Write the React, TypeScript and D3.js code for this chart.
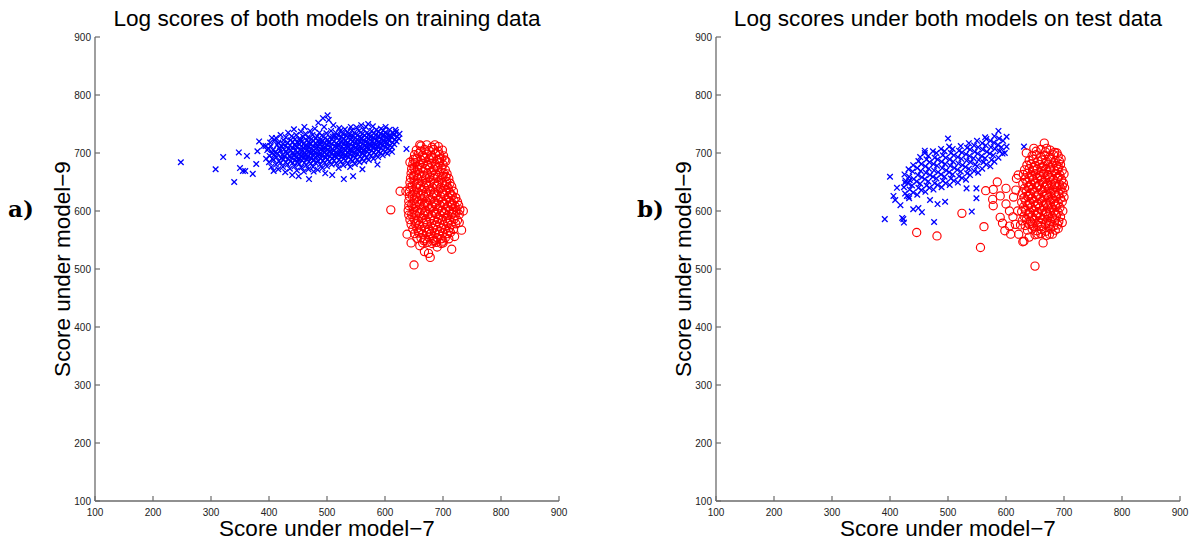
import React from "react";
import * as d3 from "d3";

const xTickValues = [100, 200, 300, 400, 500, 600, 700, 800, 900];
const yTickValues = [100, 200, 300, 400, 500, 600, 700, 800, 900];
const panelTitles = [
  "Log scores of both models on training data",
  "Log scores under both models on test data",
];
const panelTags = ["a)", "b)"];
const xAxisLabel = "Score under model\u22127";
const yAxisLabel = "Score under model\u22129";

// Training data, model-7 class (blue crosses): flat [x, y, x, y, ...]
const trainBlue = [
  248,684, 308,672, 321,693, 340,650, 348,701, 350,674, 355,669, 359,669, 362,695, 378,681, 380,703, 383,720, 405,726, 637,707, 372,664, 390,712,
  395,690, 397,705, 394,712,
  400,684, 401,695, 399,708, 402,718,
  404,676, 405,700, 403,712, 406,690,
  408,688, 409,697, 407,705, 410,722, 408,669,
  412,680, 413,693, 411,702, 414,714, 412,726,
  416,672, 417,686, 415,699, 418,708, 416,718,
  420,683, 421,691, 419,704, 422,711, 420,731,
  424,676, 425,689, 423,697, 426,706, 424,716, 425,722,
  428,667, 429,684, 427,694, 430,702, 428,712, 429,727,
  432,680, 433,690, 431,699, 434,708, 432,718, 433,735,
  436,673, 437,686, 435,695, 438,704, 436,713, 437,722,
  440,662, 441,683, 439,692, 442,700, 440,709, 441,719, 439,729,
  444,677, 445,688, 443,696, 446,705, 444,714, 445,724, 443,741,
  448,670, 449,684, 447,693, 450,701, 448,710, 449,718, 447,731,
  452,681, 453,690, 451,698, 454,706, 452,715, 453,725, 451,660,
  456,675, 457,687, 455,695, 458,703, 456,712, 457,720, 455,737,
  460,668, 461,683, 459,692, 462,700, 460,708, 461,717, 459,728, 461,745,
  464,679, 465,689, 463,697, 466,705, 464,713, 465,722, 463,733,
  468,672, 469,685, 467,694, 470,702, 468,710, 469,719, 467,727, 469,655,
  472,682, 473,691, 471,699, 474,707, 472,716, 473,724, 471,738,
  476,676, 477,688, 475,696, 478,704, 476,712, 477,721, 475,731, 477,668,
  480,683, 481,693, 479,701, 482,709, 480,717, 481,726, 479,742,
  484,671, 485,686, 483,695, 486,703, 484,711, 485,720, 483,729, 485,752,
  488,680, 489,690, 487,698, 490,706, 488,714, 489,723, 487,735,
  492,674, 493,687, 491,696, 494,704, 492,712, 493,721, 491,730, 493,760,
  496,683, 497,693, 495,701, 498,709, 496,717, 497,726, 495,745, 497,665,
  500,677, 501,689, 499,698, 502,706, 500,714, 501,723, 499,734, 501,765,
  504,685, 505,694, 503,702, 506,710, 504,718, 505,727, 503,757,
  508,680, 509,691, 507,699, 510,707, 508,716, 509,724, 507,738, 509,662,
  512,687, 513,696, 511,704, 514,712, 512,720, 513,729, 511,748,
  516,682, 517,692, 515,701, 518,709, 516,717, 517,726, 515,735,
  520,674, 521,688, 519,697, 522,705, 520,713, 521,722, 519,731, 521,743,
  524,685, 525,694, 523,703, 526,711, 524,719, 525,728, 523,738,
  528,679, 529,690, 527,699, 530,707, 528,716, 529,724, 527,733, 529,655,
  532,687, 533,696, 531,705, 534,713, 532,721, 533,730, 531,741,
  536,682, 537,693, 535,701, 538,710, 536,718, 537,727, 535,736,
  540,676, 541,689, 539,698, 542,706, 540,715, 541,723, 539,732, 541,745,
  544,686, 545,695, 543,704, 546,712, 544,720, 545,729, 543,739, 545,660,
  548,681, 549,692, 547,701, 550,709, 548,717, 549,726, 547,735,
  552,688, 553,698, 551,706, 554,714, 552,723, 553,731, 551,744,
  556,684, 557,694, 555,703, 558,711, 556,719, 557,728, 555,738,
  560,690, 561,700, 559,708, 562,716, 560,725, 561,733, 559,748, 561,672,
  564,686, 565,697, 563,705, 566,713, 564,722, 565,730, 563,740,
  568,692, 569,702, 567,710, 570,718, 568,727, 569,735, 567,745,
  572,688, 573,699, 571,707, 574,715, 572,724, 573,732, 571,750,
  576,695, 577,704, 575,712, 578,720, 576,729, 577,738,
  580,690, 581,701, 579,709, 582,717, 580,726, 581,734, 579,746,
  584,697, 585,706, 583,714, 586,722, 584,731, 585,740,
  588,693, 589,703, 587,711, 590,719, 588,728, 589,737, 587,680,
  592,700, 593,708, 591,716, 594,724, 592,733, 593,742,
  596,696, 597,705, 595,713, 598,721, 596,730, 597,739,
  600,702, 601,710, 599,718, 602,727, 600,735, 601,745,
  604,699, 605,708, 603,716, 606,724, 604,733,
  608,705, 609,713, 607,721, 610,730, 608,740,
  612,710, 613,718, 611,727, 614,735, 612,702,
  616,715, 617,723, 615,731, 618,740,
  620,720, 621,728, 619,736,
  624,725, 625,733,
  442,696, 446,712, 450,689, 454,721, 458,698, 462,712, 466,692, 470,716, 474,701, 478,688, 482,713, 486,697, 490,719,
  494,708, 498,692, 502,718, 506,703, 510,728, 514,694, 518,714, 522,700, 526,721, 530,695, 534,717, 538,705, 542,727,
  546,699, 550,720, 554,707, 558,725, 562,704, 566,719, 570,710, 574,728, 578,714, 582,724, 586,712, 590,729, 594,717,
  598,731, 602,720, 606,729,
];

// Training data, model-9 class (red circles)
const trainRed = [
  610,602, 626,634, 636,634, 643,684, 705,686, 660,714, 686,714, 650,507, 675,527, 715,534, 732,567, 660,540, 690,538, 700,545, 668,530, 683,548, 720,556, 728,580, 735,600, 638,560, 645,545, 678,520,
  662,712, 672,714, 681,710, 692,711,
  654,705, 661,703, 668,706, 676,704, 684,706, 692,703, 699,705,
  651,697, 658,699, 665,696, 672,698, 680,696, 687,699, 694,697, 701,695,
  649,689, 655,690, 662,688, 669,691, 676,689, 683,690, 690,688, 697,690, 703,688,
  648,681, 652,683, 659,680, 666,682, 673,680, 680,682, 687,681, 694,683, 700,680,
  646,673, 650,674, 656,672, 663,675, 670,673, 677,674, 684,672, 691,675, 698,673, 704,671,
  645,665, 652,666, 659,664, 666,667, 673,665, 680,666, 687,664, 694,666, 701,665, 707,664,
  644,657, 649,658, 656,656, 663,659, 670,657, 677,658, 684,656, 691,658, 698,657, 705,659, 710,656,
  643,649, 650,650, 657,648, 664,651, 671,649, 678,650, 685,648, 692,650, 699,649, 706,651, 712,648,
  643,641, 647,642, 654,640, 661,643, 668,641, 675,642, 682,640, 689,642, 696,641, 703,643, 709,640, 715,642,
  642,633, 650,634, 657,632, 664,635, 671,633, 678,634, 685,632, 692,634, 699,633, 706,635, 712,632, 718,634,
  642,625, 647,626, 654,624, 661,627, 668,625, 675,626, 682,624, 689,626, 696,625, 703,627, 709,624, 716,626, 722,623,
  641,617, 650,618, 657,616, 664,619, 671,617, 678,618, 685,616, 692,618, 699,617, 706,619, 712,616, 719,618, 725,616,
  641,609, 646,610, 653,608, 660,611, 667,609, 674,610, 681,608, 688,610, 695,609, 702,611, 708,608, 715,610, 721,608, 727,610,
  640,601, 649,602, 656,600, 663,603, 670,601, 677,602, 684,600, 691,602, 698,601, 705,603, 711,600, 718,602, 724,600, 729,602,
  641,593, 646,594, 653,592, 660,595, 667,593, 674,594, 681,592, 688,594, 695,593, 702,595, 708,592, 715,594, 721,592, 728,594,
  643,585, 650,586, 657,584, 664,587, 671,585, 678,586, 685,584, 692,586, 699,585, 706,587, 712,584, 719,586, 725,584,
  645,577, 652,578, 659,576, 666,579, 673,577, 680,578, 687,576, 694,578, 701,577, 708,579, 714,576, 722,578,
  648,569, 655,570, 662,568, 669,571, 676,569, 683,570, 690,568, 697,570, 704,569, 711,571, 718,568,
  651,561, 658,562, 665,560, 672,563, 679,561, 686,562, 693,560, 700,562, 707,561, 713,563,
  655,553, 662,554, 669,552, 676,555, 683,553, 690,554, 697,552, 704,554, 710,552,
  665,545, 673,546, 681,544, 689,546, 697,544,
  652,690, 666,693, 680,693, 694,690, 656,676, 674,678, 688,677, 650,661, 668,661, 684,661, 700,660, 654,645, 672,645,
  690,645, 706,646, 650,629, 666,629, 684,629, 700,630, 714,628, 650,613, 668,613, 686,613, 702,613, 716,613, 650,597,
  668,597, 686,597, 702,597, 718,597, 654,581, 672,581, 690,581, 708,581, 658,565, 676,565, 694,565, 710,565, 667,549,
  685,549, 700,548,
];

// Test data, model-7 class (blue crosses)
const testBlue = [
  391,586, 400,659, 423,586, 421,588, 424,580, 476,581, 541,599, 587,738, 631,711, 500,725, 601,728, 601,711, 598,700, 406,626, 409,619, 429,626, 433,622, 440,603, 449,605, 469,619, 495,616, 426,649, 434,653, 564,727, 549,639, 549,622, 532,639, 460,704, 412,640, 418,610, 455,598, 482,612,
  426,630, 424,641, 427,652, 425,663,
  432,625, 434,637, 431,648, 433,659, 432,672,
  440,632, 438,644, 441,655, 439,668, 440,679,
  447,628, 449,640, 446,651, 448,662, 447,674, 449,686,
  454,636, 452,647, 455,658, 453,669, 454,681, 452,693,
  461,633, 463,644, 460,655, 462,666, 461,677, 463,689, 460,700,
  468,640, 466,651, 469,662, 467,673, 468,684, 466,695,
  475,637, 477,648, 474,659, 476,670, 475,681, 477,692, 474,703,
  482,645, 480,656, 483,667, 481,678, 482,689, 480,700,
  489,641, 491,652, 488,663, 490,674, 489,685, 491,696, 488,707,
  496,648, 494,659, 497,670, 495,681, 496,692, 494,703,
  503,645, 505,656, 502,667, 504,678, 503,689, 505,700, 502,711,
  510,652, 508,663, 511,674, 509,685, 510,696, 508,707,
  517,649, 519,660, 516,671, 518,682, 517,693, 519,704,
  524,657, 522,668, 525,679, 523,690, 524,701, 522,712,
  531,654, 533,665, 530,676, 532,687, 531,698, 533,709,
  538,662, 536,673, 539,684, 537,695, 538,706, 536,717,
  545,669, 547,680, 544,691, 546,702, 545,713,
  552,666, 550,677, 553,688, 551,699, 552,710, 550,721,
  559,673, 561,684, 558,695, 560,706, 559,717,
  566,680, 564,691, 567,702, 565,713, 566,724,
  573,677, 575,688, 572,699, 574,710, 573,721,
  580,685, 578,696, 581,707, 579,718, 580,729,
  587,692, 589,703, 586,714, 588,725,
  594,699, 592,710, 595,721,
];

// Test data, model-9 class (red circles)
const testRed = [
  446,563, 481,557, 524,596, 562,573, 556,537, 565,635, 578,637, 577,620, 578,609, 590,626, 600,639, 613,624, 617,636, 618,656, 621,662, 606,600, 590,589, 594,579, 606,574, 616,577, 625,576, 631,548, 650,505, 629,547, 664,545, 666,717, 670,708, 585,650, 600,612, 612,590, 620,600, 608,560, 622,560, 598,566, 640,555, 655,560, 675,560, 690,570, 697,580, 635,700, 648,708, 688,700, 695,690,
  652,703, 660,706, 668,702, 676,705, 684,701,
  645,695, 652,697, 660,694, 667,696, 675,693, 682,697, 690,695,
  640,687, 647,689, 655,686, 662,688, 670,685, 677,689, 685,687, 692,686,
  636,679, 643,681, 650,678, 658,680, 665,677, 672,681, 680,679, 687,678, 694,680,
  632,671, 640,673, 647,670, 654,672, 661,669, 669,673, 676,671, 683,670, 690,672, 697,670,
  630,663, 637,665, 644,662, 651,664, 658,661, 665,665, 672,663, 679,662, 686,664, 693,662, 700,664,
  633,655, 640,657, 647,654, 654,656, 661,653, 668,657, 675,655, 682,654, 689,656, 696,654,
  629,647, 636,649, 643,646, 650,648, 657,645, 664,649, 671,647, 678,646, 685,648, 692,646, 699,648,
  632,639, 639,641, 646,638, 653,640, 660,637, 667,641, 674,639, 681,638, 688,640, 695,638, 701,640,
  628,631, 635,633, 642,630, 649,632, 656,629, 663,633, 670,631, 677,630, 684,632, 691,630, 698,632,
  631,623, 638,625, 645,622, 652,624, 659,621, 666,625, 673,623, 680,622, 687,624, 694,622, 700,624,
  627,615, 634,617, 641,614, 648,616, 655,613, 662,617, 669,615, 676,614, 683,616, 690,614, 697,616,
  630,607, 637,609, 644,606, 651,608, 658,605, 665,609, 672,607, 679,606, 686,608, 693,606,
  627,599, 634,601, 641,598, 648,600, 655,597, 662,601, 669,599, 676,598, 683,600, 690,598, 698,600,
  631,591, 638,593, 645,590, 652,592, 659,589, 666,593, 673,591, 680,590, 687,592, 694,590,
  628,583, 635,585, 642,582, 649,584, 656,581, 663,585, 670,583, 677,582, 684,584, 691,582,
  633,575, 640,577, 647,574, 654,576, 661,573, 668,577, 675,575, 682,574, 689,576,
  637,567, 645,569, 653,566, 661,568, 669,565, 677,569, 685,567,
  650,559, 660,561, 670,558, 680,560,
  648,675, 662,676, 676,675, 690,676, 645,659, 660,659, 675,658, 690,659, 640,643, 655,643, 670,643, 685,643, 697,643,
  640,627, 655,627, 670,627, 685,627, 640,611, 655,611, 670,611, 685,611, 640,595, 655,595, 670,595, 685,595, 645,579,
  660,579, 675,579,
];

const toPairs = (flat: number[]): [number, number][] =>
  d3.range(0, flat.length, 2).map((i) => [flat[i], flat[i + 1]] as [number, number]);

const PLOT_TOP = 37;
const PLOT_SIZE = 464;
const SANS = "'Liberation Sans', Arial, Helvetica, sans-serif";
const AXIS_COLOR = "#6b6b6b";

type PanelProps = {
  left: number;
  tagX: number;
  title: string;
  tag: string;
  blue: number[];
  red: number[];
};

function Panel({ left, tagX, title, tag, blue, red }: PanelProps) {
  const x = d3.scaleLinear().domain([100, 900]).range([left, left + PLOT_SIZE]);
  const y = d3.scaleLinear().domain([100, 900]).range([PLOT_TOP + PLOT_SIZE, PLOT_TOP]);
  const x0 = x(100);
  const y0 = y(100);
  const cx = (x(100) + x(900)) / 2;
  const cy = (y(100) + y(900)) / 2;
  const bluePts = toPairs(blue);
  const redPts = toPairs(red);
  const s = 2.8;
  return (
    <g>
      <text x={cx} y={26} textAnchor="middle" fontFamily={SANS} fontSize={22.6} fill="#000">
        {title}
      </text>
      <text x={tagX} y={217} fontFamily="'DejaVu Serif', serif" fontWeight="bold" fontSize={23} fill="#000">
        {tag}
      </text>
      {/* axes */}
      <line x1={x0} y1={y(900)} x2={x0} y2={y0} stroke={AXIS_COLOR} strokeWidth={1.3} />
      <line x1={x0} y1={y0} x2={x(900)} y2={y0} stroke={AXIS_COLOR} strokeWidth={1.3} />
      {yTickValues.map((t) => (
        <g key={"y" + t}>
          <line x1={x0} x2={x0 + 5} y1={y(t)} y2={y(t)} stroke={AXIS_COLOR} strokeWidth={1.2} />
          <text x={x0 - 4} y={y(t) + 3.5} textAnchor="end" fontFamily={SANS} fontSize={10} fill="#222">
            {t}
          </text>
        </g>
      ))}
      {xTickValues.map((t) => (
        <g key={"x" + t}>
          <line x1={x(t)} x2={x(t)} y1={y0} y2={y0 - 5} stroke={AXIS_COLOR} strokeWidth={1.2} />
          <text x={x(t)} y={y0 + 15} textAnchor="middle" fontFamily={SANS} fontSize={10} fill="#222">
            {t}
          </text>
        </g>
      ))}
      <text x={cx} y={536} textAnchor="middle" fontFamily={SANS} fontSize={22.5} fill="#000">
        {xAxisLabel}
      </text>
      <text
        transform={`translate(${x0 - 25},${cy}) rotate(-90)`}
        textAnchor="middle"
        fontFamily={SANS}
        fontSize={22.5}
        fill="#000"
      >
        {yAxisLabel}
      </text>
      {/* blue crosses */}
      <g stroke="#0000ff" strokeWidth={1.3} fill="none">
        {bluePts.map(([a, b], i) => (
          <path
            key={"b" + i}
            d={`M${x(a) - s},${y(b) - s}L${x(a) + s},${y(b) + s}M${x(a) - s},${y(b) + s}L${x(a) + s},${y(b) - s}`}
          />
        ))}
      </g>
      {/* red circles */}
      <g stroke="#ff0000" strokeWidth={1.15} fill="none">
        {redPts.map(([a, b], i) => (
          <circle key={"r" + i} cx={x(a)} cy={y(b)} r={4.1} />
        ))}
      </g>
    </g>
  );
}

export default function App() {
  return (
    <div style={{ position: "absolute", left: 0, top: 0 }}>
      <svg width={1193} height={540} style={{ display: "block", background: "#fff" }}>
        <Panel left={95} tagX={8} title={panelTitles[0]} tag={panelTags[0]} blue={trainBlue} red={trainRed} />
        <Panel left={716} tagX={637} title={panelTitles[1]} tag={panelTags[1]} blue={testBlue} red={testRed} />
      </svg>
    </div>
  );
}
